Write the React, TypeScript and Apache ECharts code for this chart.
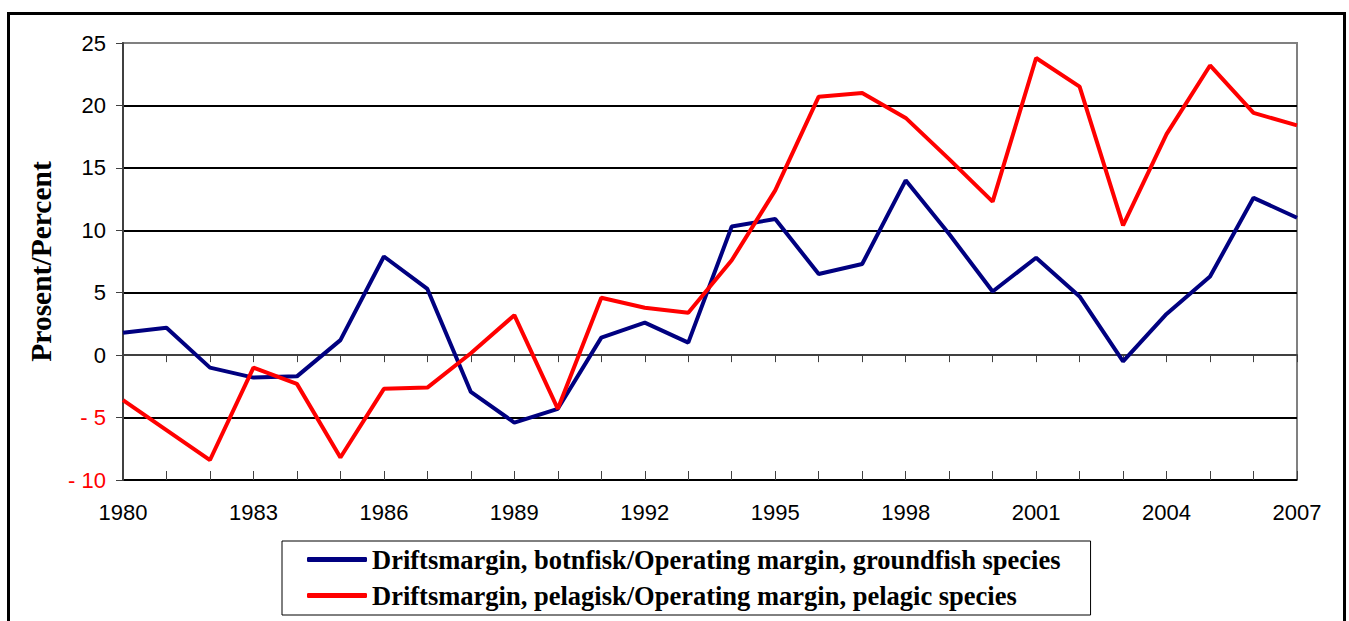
import React, { useEffect, useRef } from "react";
import * as echarts from "echarts";

const years = [
  "1980","1981","1982","1983","1984","1985","1986","1987","1988","1989",
  "1990","1991","1992","1993","1994","1995","1996","1997","1998","1999",
  "2000","2001","2002","2003","2004","2005","2006","2007",
];
const groundfish = [
  1.8, 2.2, -1.0, -1.8, -1.7, 1.2, 7.9, 5.3, -2.95, -5.4,
  -4.3, 1.4, 2.6, 1.0, 10.3, 10.9, 6.5, 7.3, 14.0, 9.7,
  5.1, 7.8, 4.7, -0.5, 3.3, 6.3, 12.6, 11.0,
];
const pelagic = [
  -3.6, -6.0, -8.4, -1.0, -2.3, -8.2, -2.7, -2.6, 0.15, 3.2,
  -4.3, 4.6, 3.8, 3.4, 7.6, 13.2, 20.7, 21.0, 19.0, 15.7,
  12.3, 23.8, 21.5, 10.4, 17.7, 23.2, 19.4, 18.4,
];
const seriesNames = [
  "Driftsmargin, botnfisk/Operating margin, groundfish species",
  "Driftsmargin, pelagisk/Operating margin, pelagic species",
];
const yAxisTitle = "Prosent/Percent";

export default function App() {
  const ref = useRef<HTMLDivElement>(null);
  useEffect(() => {
    if (!ref.current) return;
    const chart = echarts.init(ref.current, null, { renderer: "svg" });
    chart.setOption({
      animation: false,
      backgroundColor: "#fff",
      graphic: [
        {
          type: "rect",
          shape: { x: 8.5, y: 13.5, width: 1336, height: 700 },
          style: { fill: "none", stroke: "#000", lineWidth: 3 },
          silent: true,
          z: 100,
        },
      ],
      grid: {
        left: 123,
        right: 52,
        top: 43,
        bottom: 141,
        show: true,
        borderColor: "#808080",
        borderWidth: 2,
        backgroundColor: "transparent",
      },
      legend: {
        orient: "vertical",
        left: 282,
        top: 541,
        backgroundColor: "#fff",
        borderColor: "#000",
        borderWidth: 1,
        padding: [5, 30, 6, 25],
        itemGap: 9,
        itemWidth: 60,
        itemHeight: 5,
        icon: "roundRect",
        textStyle: {
          fontFamily: "'Liberation Serif', 'Times New Roman', serif",
          fontWeight: "bold",
          fontSize: 26.5,
          color: "#000",
        },
        data: seriesNames,
      },
      xAxis: [
        {
          type: "category",
          data: years,
          boundaryGap: false,
          axisLine: { show: true, lineStyle: { color: "#404040", width: 2 } },
          axisTick: {
            show: true,
            interval: 0,
            length: 7,
            lineStyle: { color: "#404040", width: 1 },
          },
          axisLabel: {
            interval: 2,
            margin: 21,
            fontFamily: "'Liberation Sans', Arial, sans-serif",
            fontSize: 22,
            color: "#000",
          },
          splitLine: { show: false },
        },
        {
          type: "category",
          data: years,
          boundaryGap: false,
          position: "bottom",
          axisLine: { show: false },
          axisTick: {
            show: true,
            inside: true,
            interval: 0,
            length: 9,
            lineStyle: { color: "#404040", width: 1 },
          },
          axisLabel: { show: false },
          splitLine: { show: false },
        },
      ],
      yAxis: {
        type: "value",
        min: -10,
        max: 25,
        interval: 5,
        name: yAxisTitle,
        nameLocation: "middle",
        nameGap: 67,
        nameTextStyle: {
          fontFamily: "'Liberation Serif', 'Times New Roman', serif",
          fontWeight: "bold",
          fontSize: 29.5,
          color: "#000",
        },
        axisLine: { show: true, lineStyle: { color: "#404040", width: 2 } },
        axisTick: { show: true, length: 7, lineStyle: { color: "#404040", width: 1 } },
        axisLabel: {
          margin: 17,
          fontFamily: "'Liberation Sans', Arial, sans-serif",
          fontSize: 22,
          formatter: (v: number) => (v < 0 ? "- " + Math.abs(v) : String(v)),
          color: (v: any) => (Number(v) < 0 ? "#ff0000" : "#000"),
        },
        splitLine: {
          show: true,
          lineStyle: {
            color: ["#000", "#000", "#000", "#000", "#000", "#000", "#000", "#808080"],
            width: 2,
          },
        },
      },
      series: [
        {
          name: seriesNames[0],
          type: "line",
          data: groundfish,
          showSymbol: false,
          symbol: "none",
          lineStyle: { color: "#000080", width: 4 },
          itemStyle: { color: "#000080" },
          z: 3,
        },
        {
          name: seriesNames[1],
          type: "line",
          data: pelagic,
          showSymbol: false,
          symbol: "none",
          lineStyle: { color: "#ff0000", width: 4 },
          itemStyle: { color: "#ff0000" },
          z: 4,
        },
      ],
    });
    return () => chart.dispose();
  }, []);
  return (
    <div
      ref={ref}
      style={{ position: "absolute", left: 0, top: 0, width: 1349, height: 621 }}
    />
  );
}
